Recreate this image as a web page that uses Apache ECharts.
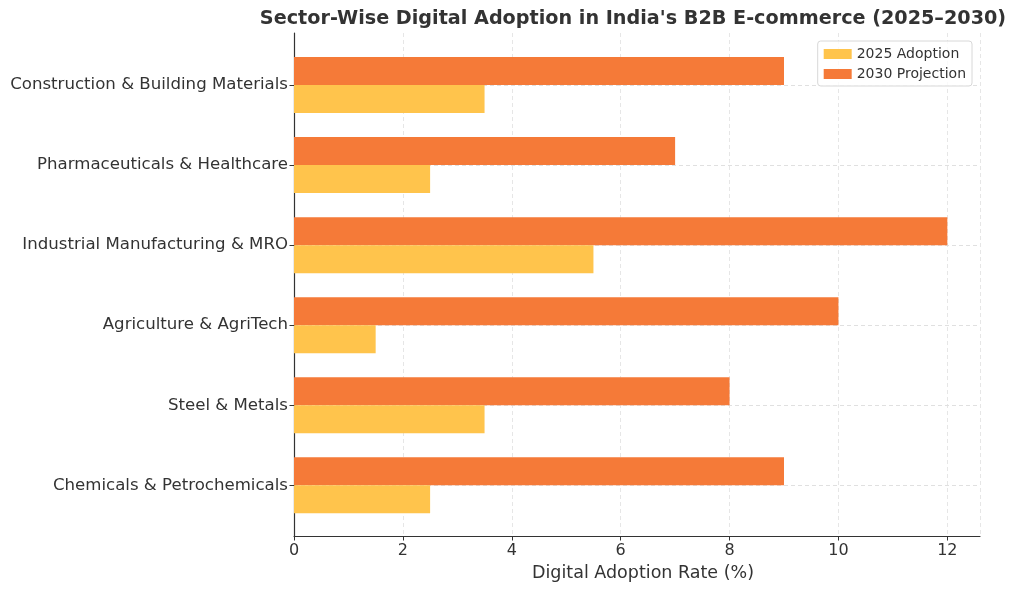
<!DOCTYPE html>
<html>
<head>
<meta charset="utf-8">
<script src="https://cdn.jsdelivr.net/npm/echarts@6/dist/echarts.min.js"></script>
<style>
  html, body { margin: 0; padding: 0; background: #fff; }
  #chart { width: 1024px; height: 590px; }
</style>
</head>
<body>
<div id="chart"></div>
<script>
// sectors, bottom to top as in the picture
var sectors = [
  'Chemicals & Petrochemicals',
  'Steel & Metals',
  'Agriculture & AgriTech',
  'Industrial Manufacturing & MRO',
  'Pharmaceuticals & Healthcare',
  'Construction & Building Materials'
];
var adoption2025 = [2.5, 3.5, 1.5, 5.5, 2.5, 3.5];
var projection2030 = [9, 8, 10, 12, 7, 9];
var xTicks = [0, 2, 4, 6, 8, 10, 12];

var textColor = '#333333';
var font = 'DejaVu Sans';

var chart = echarts.init(document.getElementById('chart'));

var option = {
  backgroundColor: '#ffffff',
  animation: false,
  textStyle: { fontFamily: font, color: textColor },
  title: {
    text: "Sector-Wise Digital Adoption in India's B2B E-commerce (2025\u20132030)",
    left: 628,
    top: 5,
    textAlign: 'center',
    textStyle: { fontFamily: font, fontSize: 19.2, fontWeight: 'bold', color: textColor }
  },
  legend: {
    data: ['2025 Adoption', '2030 Projection'],
    orient: 'vertical',
    right: 52,
    top: 41,
    itemWidth: 28,
    itemHeight: 10,
    itemGap: 6,
    padding: [6, 6, 5, 6],
    borderColor: '#d8d8d8',
    borderWidth: 1,
    borderRadius: 3,
    backgroundColor: 'rgba(255,255,255,0.8)',
    textStyle: { fontFamily: font, fontSize: 14, color: textColor },
    icon: 'rect'
  },
  grid: [
    { left: 294, right: 44, top: 45, bottom: 64.7 },
    { left: 294, right: 44, top: 33, bottom: 54 }
  ],
  xAxis: [
    {
      gridIndex: 0, type: 'value', min: 0, max: 12.6,
      show: false
    },
    {
      gridIndex: 1, type: 'value', min: 0, max: 12.6, interval: 2,
      name: 'Digital Adoption Rate (%)',
      nameLocation: 'middle',
      nameGap: 28,
      nameTextStyle: { fontFamily: font, fontSize: 17.5, color: textColor, padding: [0, 0, 0, 12] },
      axisLine: { show: true, lineStyle: { color: '#333', width: 1.2 } },
      axisTick: { show: true, length: 4.5, lineStyle: { color: '#333' } },
      axisLabel: {
        fontFamily: font, fontSize: 16, color: textColor, margin: 7,
        showMaxLabel: false,
        formatter: function (v) { return xTicks.indexOf(v) >= 0 ? String(v) : ''; }
      },
      splitLine: { show: true, lineStyle: { color: '#e0e0e0', type: [4, 3], width: 0.8 } }
    }
  ],
  yAxis: [
    {
      gridIndex: 0, type: 'category', data: sectors,
      axisLine: { show: false },
      axisTick: { show: true, alignWithLabel: true, length: 4.5, lineStyle: { color: '#333' } },
      axisLabel: { fontFamily: font, fontSize: 16.6, color: textColor, margin: 6 },
      splitLine: { show: true, alignWithLabel: true, lineStyle: { color: '#d8d8d8', type: [4, 3], width: 0.8 } }
    },
    {
      gridIndex: 1, type: 'value', min: 0, max: 1,
      axisLine: { show: true, lineStyle: { color: '#333', width: 1.2 } },
      axisTick: { show: false },
      axisLabel: { show: false },
      splitLine: { show: false }
    }
  ],
  // 2030 first so it sits on the upper half of each band
  series: [
    {
      name: '2030 Projection',
      type: 'bar',
      xAxisIndex: 0, yAxisIndex: 0,
      data: projection2030,
      barWidth: 28,
      barGap: '0%',
      itemStyle: { color: '#F57A38' }
    },
    {
      name: '2025 Adoption',
      type: 'bar',
      xAxisIndex: 0, yAxisIndex: 0,
      data: adoption2025,
      barWidth: 28,
      barGap: '0%',
      itemStyle: { color: '#FFC44C' }
    }
  ]
};

chart.setOption(option);
</script>
</body>
</html>
